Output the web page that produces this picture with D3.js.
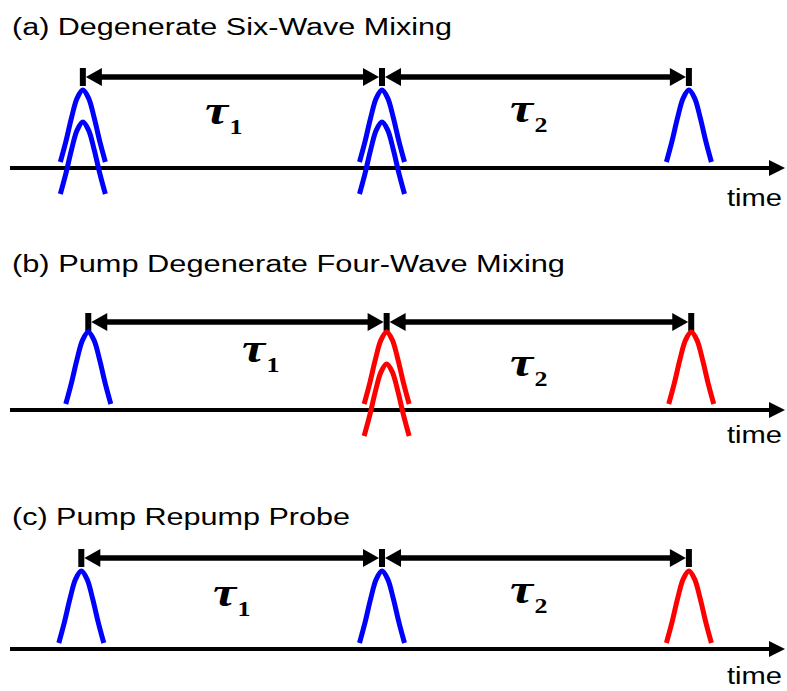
<!DOCTYPE html>
<html>
<head>
<meta charset="utf-8">
<script src="https://cdn.jsdelivr.net/npm/d3@7"></script>
<style>
  html, body { margin: 0; padding: 0; background: #fff; }
  svg { display: block; }
</style>
</head>
<body>
<script>
// ---------------- DATA ----------------
const panelTitles = [
  "(a) Degenerate Six-Wave Mixing",
  "(b) Pump Degenerate Four-Wave Mixing",
  "(c) Pump Repump Probe"
];
// pulse arrival times (arbitrary time units along the axis)
const pulseTimes = [
  [0.94, 4.80, 8.76],
  [1.01, 4.86, 8.79],
  [0.92, 4.80, 8.76]
];
// number of stacked (overlapping) copies of each pulse
const pulseCounts = [
  [2, 2, 1],
  [1, 2, 1],
  [1, 1, 1]
];
// pulse kind: "b" = blue, "r" = red
const pulseKinds = [
  ["b", "b", "b"],
  ["b", "r", "r"],
  ["b", "b", "r"]
];
const delayLabels = [["τ", "1"], ["τ", "2"]];
const axisLabel = "time";
// normalized pulse profile
const pulseProfile = [[-1,0],[-0.75,0.29],[-0.5,0.62],[-0.25,0.89],[0,1],[0.25,0.89],[0.5,0.62],[0.75,0.29],[1,0]];

// ---------------- LAYOUT ----------------
const W = 787, H = 691;
const colors = { b: "#0000ff", r: "#ff0000" };
const panels = [
  { titleY: 35,  arrowY: 77,  axisY: 168, timeY: 206, tau: [[205,124],[510,122]] },
  { titleY: 272, arrowY: 322, axisY: 410, timeY: 443, tau: [[242,362],[510,376]] },
  { titleY: 525, arrowY: 558, axisY: 649, timeY: 684, tau: [[213,606],[510,603]] }
];
const titleLengths = [440, 553, 338];

const x = d3.scaleLinear().domain([0, 10]).range([10, 785]);
const pw = d3.scaleLinear().domain([-1, 1]).range([-22.5, 22.5]);
const ph = d3.scaleLinear().domain([0, 1]).range([0, 72]);

const svg = d3.select("body").append("svg")
  .attr("width", W).attr("height", H)
  .attr("viewBox", `0 0 ${W} ${H}`);

panels.forEach((p, i) => {
  const g = svg.append("g");

  // title
  g.append("text")
    .attr("x", 12).attr("y", p.titleY)
    .attr("font-family", "Liberation Sans, Arial, sans-serif")
    .attr("font-size", 23)
    .attr("textLength", titleLengths[i])
    .attr("lengthAdjust", "spacingAndGlyphs")
    .attr("fill", "#000")
    .text(panelTitles[i]);

  // time axis with arrowhead
  const axEnd = x(10);
  g.append("line")
    .attr("x1", x(0)).attr("x2", axEnd - 12)
    .attr("y1", p.axisY).attr("y2", p.axisY)
    .attr("stroke", "#000").attr("stroke-width", 4);
  g.append("path")
    .attr("d", `M${axEnd},${p.axisY} L${axEnd - 16},${p.axisY - 8} L${axEnd - 16},${p.axisY + 8} Z`)
    .attr("fill", "#000");

  g.append("text")
    .attr("x", 727).attr("y", p.timeY)
    .attr("font-family", "Liberation Sans, Arial, sans-serif")
    .attr("font-size", 23)
    .attr("textLength", 55)
    .attr("lengthAdjust", "spacingAndGlyphs")
    .text(axisLabel);

  // delay arrows
  const times = pulseTimes[i];
  const ay = p.arrowY;
  for (let k = 0; k < times.length - 1; k++) {
    const x1 = x(times[k]) + 3, x2 = x(times[k + 1]) - 3;
    g.append("line")
      .attr("x1", x1 + 10).attr("x2", x2 - 10)
      .attr("y1", ay).attr("y2", ay)
      .attr("stroke", "#000").attr("stroke-width", 5.5);
    g.append("path")
      .attr("d", `M${x1},${ay} L${x1 + 16},${ay - 9} L${x1 + 16},${ay + 9} Z`)
      .attr("fill", "#000");
    g.append("path")
      .attr("d", `M${x2},${ay} L${x2 - 16},${ay - 9} L${x2 - 16},${ay + 9} Z`)
      .attr("fill", "#000");
  }
  times.forEach(t => {
    g.append("rect")
      .attr("x", x(t) - 3).attr("y", ay - 9)
      .attr("width", 6).attr("height", 18)
      .attr("fill", "#000");
  });

  // tau labels (horizontally stretched like the reference)
  delayLabels.forEach((lab, k) => {
    const [tx, ty] = p.tau[k];
    const t = g.append("text")
      .attr("transform", `translate(${tx},${ty}) scale(1.3,1)`)
      .attr("font-family", "Liberation Serif, Times New Roman, serif")
      .attr("font-weight", "bold")
      .attr("fill", "#000");
    t.append("tspan").attr("font-size", 40).attr("font-style", "italic").text(lab[0]);
    t.append("tspan").attr("font-size", 20).attr("dy", 10).attr("dx", 1).text(lab[1]);
  });

  // pulses
  const base = p.axisY - 6;
  times.forEach((t, j) => {
    const n = pulseCounts[i][j];
    for (let c = 0; c < n; c++) {
      const off = c * 32;
      const line = d3.line()
        .x(d => x(t) + pw(d[0]))
        .y(d => base - ph(d[1]) + off)
        .curve(d3.curveCatmullRom.alpha(0.5));
      g.append("path")
        .attr("d", line(pulseProfile))
        .attr("fill", "none")
        .attr("stroke", colors[pulseKinds[i][j]])
        .attr("stroke-width", 5);
    }
  });
});
</script>
</body>
</html>
